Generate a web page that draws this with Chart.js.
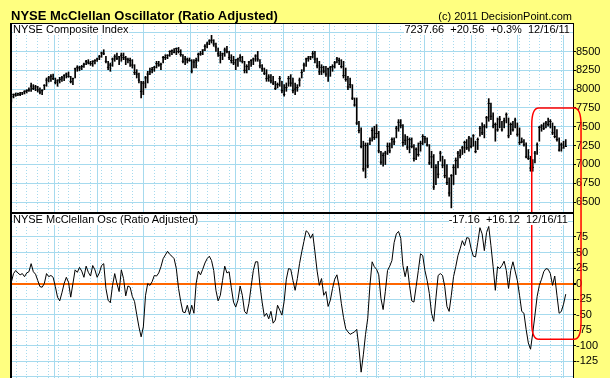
<!DOCTYPE html>
<html>
<head>
<meta charset="utf-8">
<title>NYSE McClellan Oscillator (Ratio Adjusted)</title>
<script src="https://cdn.jsdelivr.net/npm/chart.js@4.4.0/dist/chart.umd.min.js"></script>
<style>
  html, body { margin: 0; padding: 0; background: #ffff80; }
  #wrap { position: relative; width: 610px; height: 378px; overflow: hidden;
          font-family: "Liberation Sans", Arial, sans-serif; color: #000; }
  #chart { position: absolute; left: 0; top: 0; }
  .lbl { position: absolute; font-size: 11px; line-height: 11px; white-space: pre; }
  .inpanel { background: #fff; }
  #title { left: 11px; top: 9px; font-size: 13px; line-height: 13px; font-weight: bold; }
  #copy { right: 38px; top: 11px; }
  #priceName { left: 13px; top: 24px; }
  #priceLast { right: 40px; top: 24px; }
  #oscName { left: 13px; top: 214px; }
  #oscLast { right: 42px; top: 214px; }
</style>
</head>
<body>
<div id="wrap">
  <canvas id="chart" width="610" height="378"></canvas>
  <div class="lbl" id="title">NYSE McClellan Oscillator (Ratio Adjusted)</div>
  <div class="lbl" id="copy">(c) 2011 DecisionPoint.com</div>
  <div class="lbl inpanel" id="priceName">NYSE Composite Index</div>
  <div class="lbl inpanel" id="priceLast">7237.66  +20.56  +0.3%  12/16/11</div>
  <div class="lbl inpanel" id="oscName">NYSE McClellan Osc (Ratio Adjusted)</div>
  <div class="lbl inpanel" id="oscLast">-17.16  +16.12  12/16/11</div>
</div>
<script>
// trading days, 17 Dec 2010 .. 16 Dec 2011 (NYSE closed on these)
const marketHolidays = ['2010-12-24', '2011-01-17', '2011-02-21', '2011-04-22',
                        '2011-05-30', '2011-07-04', '2011-09-05', '2011-11-24'];
const tradingDays = [];
for (let d = new Date(Date.UTC(2010, 11, 17)); d <= new Date(Date.UTC(2011, 11, 16)); d.setUTCDate(d.getUTCDate() + 1)) {
  const iso = d.toISOString().slice(0, 10);
  const wd = d.getUTCDay();
  if (wd !== 0 && wd !== 6 && !marketHolidays.includes(iso)) tradingDays.push(iso);
}

// NYSE Composite daily bars
const priceHigh = [
  7927, 7936, 7949, 7949, 7958, 7958, 7980, 7993, 8016, 8082,
  8060, 8051, 8038, 8016, 7993, 8060, 8148, 8170, 8193, 8201,
  8148, 8126, 8157, 8170, 8193, 8215, 8228, 8170, 8148, 8281,
  8312, 8303, 8316, 8347, 8383, 8392, 8370, 8378, 8392, 8414,
  8449, 8493, 8524, 8436, 8370, 8347, 8414, 8458, 8480, 8436,
  8480, 8480, 8436, 8414, 8414, 8392, 8325, 8259, 8215, 8104,
  8104, 8170, 8237, 8281, 8290, 8303, 8370, 8370, 8347, 8436,
  8458, 8458, 8511, 8524, 8538, 8547, 8555, 8524, 8458, 8436,
  8414, 8414, 8392, 8392, 8414, 8480, 8502, 8524, 8591, 8626,
  8657, 8715, 8657, 8613, 8547, 8502, 8480, 8547, 8569, 8502,
  8458, 8436, 8392, 8414, 8458, 8436, 8370, 8325, 8370, 8392,
  8414, 8458, 8502, 8392, 8325, 8281, 8259, 8193, 8193, 8170,
  8104, 8082, 8170, 8104, 8060, 8082, 8170, 8193, 8148, 8082,
  8060, 8148, 8259, 8347, 8414, 8436, 8436, 8502, 8502, 8414,
  8370, 8325, 8303, 8303, 8281, 8303, 8325, 8370, 8423, 8414,
  8392, 8370, 8281, 8170, 8148, 8060, 7883, 7883, 7573, 7485,
  7308, 7285, 7285, 7352, 7485, 7507, 7529, 7440, 7175, 7153,
  7175, 7285, 7285, 7352, 7352, 7507, 7595, 7595, 7529, 7396,
  7374, 7352, 7352, 7263, 7219, 7285, 7308, 7396, 7374, 7352,
  7263, 7175, 7131, 6998, 7042, 7175, 7108, 7064, 6998, 6821,
  6865, 6998, 7086, 7175, 7197, 7241, 7308, 7330, 7374, 7352,
  7396, 7308, 7352, 7507, 7551, 7529, 7639, 7874, 7816, 7684,
  7551, 7617, 7639, 7573, 7617, 7684, 7617, 7551, 7573, 7617,
  7551, 7485, 7352, 7330, 7285, 7197, 7108, 7064, 7175, 7285,
  7507, 7529, 7551, 7573, 7617, 7595, 7551, 7507, 7462, 7352,
  7285, 7308, 7330
];
const priceLow = [
  7830, 7883, 7905, 7914, 7914, 7927, 7936, 7949, 7971, 7971,
  7993, 7980, 7962, 7936, 7927, 7993, 8038, 8095, 8104, 8126,
  8069, 8038, 8082, 8104, 8113, 8148, 8157, 8082, 8060, 8148,
  8237, 8246, 8259, 8290, 8325, 8334, 8316, 8303, 8334, 8370,
  8392, 8423, 8458, 8347, 8259, 8237, 8303, 8370, 8392, 8325,
  8370, 8392, 8325, 8347, 8303, 8281, 8193, 8148, 8082, 7883,
  7927, 8016, 8082, 8193, 8215, 8237, 8281, 8303, 8259, 8347,
  8392, 8405, 8436, 8458, 8480, 8458, 8480, 8436, 8347, 8325,
  8347, 8370, 8215, 8281, 8281, 8370, 8449, 8458, 8511, 8547,
  8591, 8613, 8569, 8502, 8436, 8347, 8392, 8436, 8480, 8392,
  8347, 8325, 8259, 8303, 8370, 8347, 8215, 8215, 8259, 8303,
  8325, 8370, 8370, 8281, 8237, 8193, 8104, 8104, 8082, 8060,
  7993, 8016, 8038, 7949, 7905, 7971, 8038, 8038, 7949, 7927,
  7971, 8038, 8148, 8237, 8303, 8370, 8392, 8414, 8347, 8281,
  8193, 8193, 8215, 8170, 8104, 8170, 8237, 8281, 8347, 8325,
  8281, 8148, 8104, 7993, 8016, 7861, 7772, 7529, 7418, 7219,
  6909, 6821, 6954, 7263, 7308, 7330, 7352, 7153, 6998, 6976,
  6998, 7131, 7153, 7219, 7263, 7352, 7440, 7485, 7241, 7263,
  7197, 7153, 7219, 7042, 7064, 7108, 7175, 7263, 7285, 7241,
  6998, 6954, 6666, 6732, 6821, 7042, 6954, 6821, 6732, 6577,
  6422, 6732, 6865, 6954, 7086, 7131, 7153, 7197, 7175, 7219,
  7241, 7153, 7197, 7374, 7396, 7352, 7485, 7573, 7595, 7485,
  7308, 7440, 7485, 7440, 7485, 7551, 7352, 7396, 7440, 7485,
  7374, 7263, 7285, 7241, 7086, 7064, 6909, 6909, 7020, 7131,
  7308, 7440, 7462, 7485, 7507, 7485, 7396, 7352, 7308, 7175,
  7175, 7219, 7241
];
const priceClose = [
  7900, 7930, 7920, 7940, 7930, 7950, 7970, 7980, 7990, 8040,
  8010, 8030, 7990, 7960, 7980, 8050, 8120, 8150, 8170, 8140,
  8090, 8110, 8130, 8150, 8180, 8200, 8170, 8100, 8140, 8270,
  8290, 8280, 8300, 8330, 8370, 8350, 8340, 8370, 8380, 8400,
  8430, 8480, 8470, 8370, 8290, 8320, 8400, 8430, 8410, 8430,
  8450, 8420, 8400, 8390, 8380, 8320, 8220, 8200, 8120, 7970,
  8080, 8150, 8200, 8230, 8260, 8290, 8340, 8320, 8330, 8420,
  8420, 8450, 8500, 8510, 8490, 8540, 8500, 8460, 8370, 8400,
  8390, 8380, 8240, 8360, 8380, 8460, 8470, 8520, 8570, 8600,
  8640, 8650, 8600, 8560, 8470, 8450, 8470, 8520, 8500, 8420,
  8380, 8350, 8390, 8400, 8420, 8370, 8250, 8300, 8360, 8380,
  8400, 8440, 8400, 8310, 8270, 8210, 8140, 8160, 8110, 8080,
  8010, 8060, 8140, 7980, 7930, 8020, 8140, 8080, 7980, 8000,
  8020, 8120, 8220, 8320, 8400, 8410, 8430, 8470, 8400, 8310,
  8230, 8290, 8240, 8200, 8270, 8290, 8300, 8350, 8400, 8380,
  8300, 8180, 8130, 8030, 8060, 7880, 7790, 7550, 7450, 7240,
  6940, 7250, 6980, 7320, 7450, 7360, 7410, 7180, 7030, 7120,
  7150, 7240, 7180, 7330, 7300, 7480, 7560, 7520, 7290, 7320,
  7230, 7330, 7240, 7080, 7200, 7130, 7280, 7370, 7340, 7260,
  7020, 7100, 6700, 6960, 6870, 7150, 6990, 6850, 6760, 6620,
  6850, 6960, 7050, 7150, 7120, 7220, 7290, 7220, 7350, 7240,
  7380, 7170, 7330, 7480, 7420, 7500, 7620, 7810, 7640, 7510,
  7530, 7460, 7600, 7460, 7580, 7660, 7380, 7530, 7460, 7590,
  7400, 7290, 7300, 7260, 7100, 7080, 6950, 6960, 7150, 7260,
  7490, 7510, 7480, 7550, 7530, 7570, 7420, 7370, 7330, 7190,
  7260, 7217.10, 7237.66
];

// McClellan Oscillator (ratio adjusted)
const oscValues = [
  2, 16, 21, 17, 14, 16, 11, 17, 19, 32,
  19, 15, 5, -5, -6, 0, 16, 11, 13, 10,
  -5, -22, -28, -15, 0, 10, 2, -22, 0, 22,
  18, 26, 20, 10, 28, 18, 12, 29, 22, 10,
  17, 29, 32, -8, -27, -31, -3, 16, 0, -13,
  22, 8, -20, -4, -6, -21, -29, -50, -70, -86,
  -70, -19, 0, -3, 3, 13, 12, 17, 27, 40,
  46, 52, 47, 44, 40, 24, -8, -29, -46, -47,
  -35, -50, -35, -48, 0, 20, 14, 23, 33, 40,
  44, 37, 21, -11, -28, -19, 5, 28, 17, 19,
  -7, -30, -38, -27, -4, -19, -45, -49, -32, -5,
  21, 35, 35, -3, -30, -53, -48, -57, -45, -64,
  -59, -35, -43, -51, -29, 7, 24, 23, 5, -11,
  8, 32, 51, 68, 85, 82, 73, 80, 51, 20,
  -3, 8, -19, -13, -37, -27, -8, 7, 14, -5,
  -32, -55, -73, -78, -82, -80, -78, -74, -104, -143,
  -115, -82, -56, -3, 35, 27, 23, 14, -24, -42,
  -13, 21, 28, 37, 66, 80, 84, 73, 29, 11,
  28, -3, -28, -30, -5, 21, 48, 45, 21, 5,
  -16, -48, -61, -23, 13, 16, 13, -5, -37, -45,
  -19, 11, 27, 45, 56, 69, 61, 74, 73, 56,
  44, 43, 66, 90, 80, 53, 82, 92, 61, 27,
  -11, 27, 24, 29, 36, 21, -8, 21, 35, 20,
  5, -19, -45, -48, -74, -96, -106, -80, -51, -21,
  -3, 7, 19, 24, 23, 16, -3, 12, -19, -48,
  -45, -33.28, -17.16
];

// axis grid values
const priceGrid = [6500, 6750, 7000, 7250, 7500, 7750, 8000, 8250, 8500, 8750];
const priceLabelMax = 8500;
const oscGrid = [-150, -125, -100, -75, -50, -25, 0, 25, 50, 75, 100];
const oscLabelMin = -125, oscLabelMax = 75;

// red circled area (Nov 25 low onward)
const highlight = { fromIndex: 236.55, toIndex: 258.95, top: 7750, bottom: -90 };

const gridBlue = '#a6daee';
const tickFont = { family: '"Liberation Sans", Arial, sans-serif', size: 11 };

const monthStarts = [], weekStarts = [];
tradingDays.forEach((day, i) => {
  if (i === 0) return;
  const prev = tradingDays[i - 1];
  if (day.slice(0, 7) !== prev.slice(0, 7)) monthStarts.push(i);
  if (new Date(day).getUTCDay() <= new Date(prev).getUTCDay()) weekStarts.push(i);
});

function gridBetween(indexes) {
  return function (scale) {
    scale.ticks = indexes.map(i => ({ value: i - 0.5 }));
  };
}
function flatAxis(scale) {
  scale.height = 0;
  scale.paddingLeft = 0; scale.paddingRight = 0;
}
function sideAxis(scale) {
  scale.width = 37;
  scale.paddingTop = 0; scale.paddingBottom = 0;
}

const framePlugin = {
  id: 'frame',
  beforeDraw(chart) {
    const { ctx, chartArea: a } = chart;
    ctx.save();
    ctx.fillStyle = '#fff';
    ctx.fillRect(a.left, a.top, a.right - a.left, a.bottom - a.top);
    ctx.restore();
  },
  afterDraw(chart) {
    const { ctx, chartArea: a, scales } = chart;
    ctx.save();
    ctx.fillStyle = '#000';
    ctx.fillRect(a.left - 1, a.top, 2, a.bottom - a.top);
    ctx.fillRect(a.left - 1, a.top, a.right - a.left + 1, 1);
    const split = Math.round(scales.yP.bottom);
    ctx.fillRect(a.left - 1, split - 1, a.right - a.left + 1, 2);
    ctx.restore();
  }
};

const highlightPlugin = {
  id: 'highlight',
  afterDatasetsDraw(chart) {
    const { ctx, scales } = chart;
    const l = scales.x.getPixelForValue(highlight.fromIndex);
    const r = scales.x.getPixelForValue(highlight.toIndex);
    const t = scales.yP.getPixelForValue(highlight.top);
    const b = scales.yO.getPixelForValue(highlight.bottom);
    const rx = 7, ry = 17;
    ctx.save();
    ctx.strokeStyle = '#ff0000';
    ctx.lineWidth = 1.5;
    ctx.beginPath();
    ctx.moveTo(l + rx, t);
    ctx.lineTo(r - rx, t);
    ctx.quadraticCurveTo(r, t, r, t + ry);
    ctx.lineTo(r, b - ry);
    ctx.quadraticCurveTo(r, b, r - rx, b);
    ctx.lineTo(l + rx, b);
    ctx.quadraticCurveTo(l, b, l, b - ry);
    ctx.lineTo(l, t + ry);
    ctx.quadraticCurveTo(l, t, l + rx, t);
    ctx.stroke();
    ctx.restore();
  }
};

const barData = priceHigh.map((h, i) => ({ x: i, y: [priceLow[i], h] }));
const closeData = priceClose.map((c, i) => ({ x: i, y: c }));
const oscData = oscValues.map((v, i) => ({ x: i, y: v }));

new Chart(document.getElementById('chart'), {
  type: 'bar',
  data: {
    datasets: [
      { type: 'bar', data: barData, xAxisID: 'x', yAxisID: 'yP',
        backgroundColor: '#000', borderWidth: 0, barThickness: 1 },
      { type: 'line', data: closeData, xAxisID: 'x', yAxisID: 'yP', showLine: false,
        pointStyle: 'line', pointRadius: 1.2, pointBorderWidth: 1, pointBorderColor: '#000' },
      { type: 'line', data: oscData, xAxisID: 'x', yAxisID: 'yO',
        borderColor: '#000', borderWidth: 1, pointRadius: 0, tension: 0 }
    ]
  },
  options: {
    responsive: false,
    animation: false,
    events: [],
    layout: { padding: { left: 11, top: 23, right: 0, bottom: 0 }, autoPadding: false },
    plugins: { legend: { display: false }, tooltip: { enabled: false } },
    scales: {
      x: {
        type: 'linear', position: 'bottom', min: -0.15, max: 255.3, offset: false, bounds: 'data',
        afterBuildTicks: gridBetween(monthStarts), afterFit: flatAxis,
        grid: { color: gridBlue, lineWidth: 1, drawTicks: false },
        border: { display: false },
        ticks: { display: false }
      },
      xw: {
        type: 'linear', position: 'bottom', min: -0.15, max: 255.3, offset: false, bounds: 'data',
        afterBuildTicks: gridBetween(weekStarts), afterFit: flatAxis,
        grid: { color: gridBlue, lineWidth: 1, drawTicks: false },
        border: { display: false, dash: [1, 2] },
        ticks: { display: false }
      },
      yP: {
        type: 'linear', position: 'right', stack: 'panels', stackWeight: 190,
        min: 6354, max: 8879, bounds: 'data',
        afterBuildTicks: s => { s.ticks = priceGrid.map(v => ({ value: v })); },
        afterFit: sideAxis,
        grid: { color: gridBlue, lineWidth: 1, tickLength: 3,
                tickColor: c => c.tick && c.tick.value <= priceLabelMax ? '#000' : 'rgba(0,0,0,0)' },
        border: { color: '#000', width: 1 },
        ticks: { font: tickFont, color: '#000', padding: 0, autoSkip: false,
                 callback: v => v <= priceLabelMax ? String(v) : '' }
      },
      yO: {
        type: 'linear', position: 'right', stack: 'panels', stackWeight: 165,
        min: -152.4, max: 113.7, bounds: 'data',
        afterBuildTicks: s => { s.ticks = oscGrid.map(v => ({ value: v })); },
        afterFit: sideAxis,
        grid: { z: 0,
                color: c => c.tick && c.tick.value === 0 ? '#ff6600' : gridBlue,
                lineWidth: c => c.tick && c.tick.value === 0 ? 2 : 1,
                tickLength: 3,
                tickColor: c => c.tick && c.tick.value >= oscLabelMin && c.tick.value <= oscLabelMax ? '#000' : 'rgba(0,0,0,0)' },
        border: { color: '#000', width: 1 },
        ticks: { font: tickFont, color: '#000', padding: 0, autoSkip: false,
                 callback: v => (v >= oscLabelMin && v <= oscLabelMax) ? String(v) : '' }
      }
    }
  },
  plugins: [framePlugin, highlightPlugin]
});
</script>
</body>
</html>
